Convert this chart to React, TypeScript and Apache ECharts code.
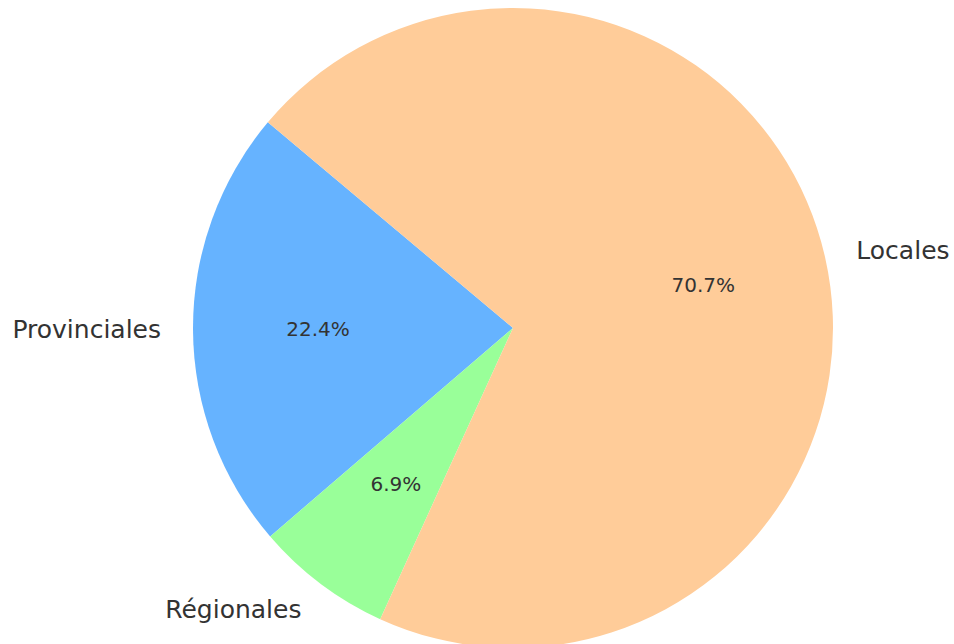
import React, { useEffect, useRef } from "react";
import * as echarts from "echarts";

const categories = ["Provinciales", "Régionales", "Locales"];
const shares = [22.4, 6.9, 70.7];
const colors = ["#66b3ff", "#99ff99", "#ffcc99"];

const FONT = "DejaVu Sans";
const CENTER = [513, 328];
const R = 320;

export default function App() {
  const ref = useRef<HTMLDivElement>(null);
  useEffect(() => {
    if (!ref.current) return;
    const chart = echarts.init(ref.current, undefined, { renderer: "svg" });
    const data = categories.map((name, i) => ({
      name,
      value: shares[i],
      itemStyle: { color: colors[i] },
    }));
    const ghost = categories.map((name, i) => ({ name, value: shares[i] }));
    const common = {
      type: "pie" as const,
      center: CENTER,
      startAngle: 140,
      clockwise: false,
      avoidLabelOverlap: false,
      silent: true,
      emphasis: { disabled: true },
    };
    chart.setOption({
      animation: false,
      backgroundColor: "#ffffff",
      series: [
        {
          ...common,
          radius: [0, R],
          data,
          label: { show: false },
          labelLine: { show: false },
        },
        {
          ...common,
          radius: [R * 0.2, R],
          data: ghost,
          itemStyle: { color: "transparent" },
          label: {
            show: true,
            position: "inside",
            formatter: (p: any) => p.percent.toFixed(1) + "%",
            fontFamily: FONT,
            fontSize: 20,
            color: "#333333",
          },
          labelLine: { show: false },
        },
        {
          ...common,
          radius: [0, R],
          data: ghost,
          itemStyle: { color: "transparent" },
          label: {
            show: true,
            position: "outside",
            formatter: "{b}",
            fontFamily: FONT,
            fontSize: 25,
            color: "#333333",
            distanceToLabelLine: 0,
            overflow: "none",
            alignTo: "none",
            verticalAlign: "middle",
          },
          labelLine: { show: false, length: R * 0.1, length2: 0 },
        },
      ],
    });
    return () => chart.dispose();
  }, []);
  return (
    <div
      ref={ref}
      style={{ position: "fixed", left: 0, top: 0, width: 954, height: 644 }}
    />
  );
}
